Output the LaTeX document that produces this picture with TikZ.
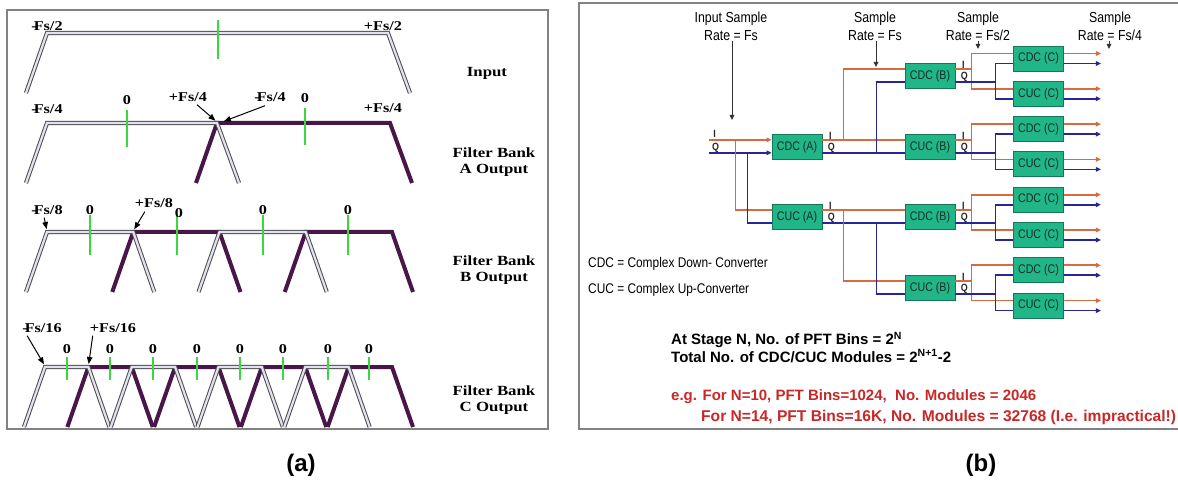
\documentclass[tikz,border=0pt]{standalone}
\usepackage{fontspec}
\setmainfont{Liberation Serif}
\newfontfamily\wserif[FakeStretch=1.2]{Liberation Serif}
\newfontfamily\nsans[FakeStretch=0.85]{Liberation Sans}
\newfontfamily\asans{Liberation Sans}
\usetikzlibrary{arrows.meta,calc}
\definecolor{ocol}{RGB}{214,106,64}
\definecolor{bcol}{RGB}{38,38,150}
\definecolor{boxg}{RGB}{32,182,136}
\definecolor{boxd}{RGB}{20,120,88}
\definecolor{boxt}{RGB}{22,45,36}
\definecolor{pcol}{RGB}{72,22,72}
\definecolor{gcol}{RGB}{60,215,60}
\definecolor{frcol}{RGB}{130,130,130}
\definecolor{rcol}{RGB}{200,40,40}
\definecolor{gin}{RGB}{225,225,240}
\begin{document}
\begin{tikzpicture}[x=1pt,y=-1pt,
 gline/.style={draw=gray!60!black, double=gin, double distance=2.2pt, line width=1pt},
 pline/.style={draw=pcol, line width=4pt},
 gtick/.style={draw=gcol, line width=1.4pt},
 lab/.style={font=\wserif\bfseries\fontsize{13.5}{13.5}\selectfont, inner sep=0pt},
 ttl/.style={font=\wserif\bfseries\fontsize{14}{16}\selectfont, align=center, inner sep=0pt},
 larr/.style={draw=black, line width=1pt, shorten >=2pt, -{Triangle[length=7pt,width=5.5pt]}},
 framebox/.style={draw=frcol, line width=1.6pt},
 oline/.style={draw=ocol, line width=1.7pt},
 bline/.style={draw=bcol, line width=1.7pt},
 arrtip/.style={-{Triangle[length=5pt,width=4.5pt]}},
 tarr/.style={draw=black!80, line width=0.9pt, -{Triangle[length=5pt,width=4.5pt]}},
 box/.style={draw=boxd, fill=boxg, line width=0.9pt, minimum width=50pt, minimum height=25pt, inner sep=0pt, font=\nsans\fontsize{12.5}{12.5}\selectfont, text=boxt},
 hdr/.style={font=\nsans\fontsize{14.5}{18}\selectfont, align=center, inner sep=0pt},
 iqlab/.style={font=\nsans\bfseries\fontsize{10.5}{10.5}\selectfont, inner sep=0pt, text=black!85},
 legtxt/.style={font=\nsans\fontsize{14}{14}\selectfont, inner sep=0pt, anchor=west},
 boldtxt/.style={font=\asans\bfseries\fontsize{15}{15}\selectfont, inner sep=0pt, anchor=west},
 captxt/.style={font=\asans\bfseries\fontsize{24}{24}\selectfont, inner sep=0pt}
]
\useasboundingbox (0,0) rectangle (1178,486);
\fill[white] (0,0) rectangle (1178,486);

% ================= panel (a) =================
\draw[framebox] (7,10) rectangle (548,429);
% Input
\draw[gline] (26,93) -- (47,33) -- (388,33) -- (410,93);
\draw[gtick] (218,20) -- (218,59);
% Filter bank A
\draw[pline] (196,183) -- (217,123) -- (390,123) -- (412,183);
\draw[gline] (26,183) -- (47,123) -- (217,123) -- (239,183);
\coordinate (ka) at (217,122);
\draw[gtick] (127,110) -- (127,147);
\draw[gtick] (305,108) -- (305,145);
% Filter bank B
\foreach \i in {1,3}
  \draw[pline] ({47+86.25*\i-21},292) -- ({47+86.25*\i},232) -- ({47+86.25*(\i+1)},232) -- ({47+86.25*(\i+1)+21},292);
\foreach \i in {0,2}
  \draw[gline] ({47+86.25*\i-21},292) -- ({47+86.25*\i},232) -- ({47+86.25*(\i+1)},232) -- ({47+86.25*(\i+1)+21},292);
\coordinate (kb0) at (47,231);
\coordinate (kb1) at (133.25,231);
\foreach \x in {90,177,263,348} \draw[gtick] (\x,215) -- (\x,255);
% Filter bank C
\foreach \i in {1,3,5,7}
  \draw[pline] ({45+43.375*\i-21},427) -- ({45+43.375*\i},367) -- ({45+43.375*(\i+1)},367) -- ({45+43.375*(\i+1)+21},427);
\foreach \i in {0,2,4,6}
  \draw[gline] ({45+43.375*\i-21},427) -- ({45+43.375*\i},367) -- ({45+43.375*(\i+1)},367) -- ({45+43.375*(\i+1)+21},427);
\coordinate (kc0) at (45,366);
\coordinate (kc1) at (88.4,366);
\foreach \x in {67,110,153,197,240,283,328,369} \draw[gtick] (\x,357) -- (\x,380);

% labels (a)
\node[lab] (l1) at (47,26) {-\kern-3pt Fs/2};
\node[lab] (l2) at (383,26) {+Fs/2};
\node[ttl] (t0) at (487,73) {Input};
\node[lab] (l3) at (47,109) {-\kern-3pt Fs/4};
\node[lab] (l4) at (127,100) {0};
\node[lab] (l5) at (188,97) {+Fs/4};
\node[lab] (l6) at (270,97) {-\kern-3pt Fs/4};
\node[lab] (l7) at (305,98) {0};
\node[lab] (l8) at (383,108) {+Fs/4};
\node[ttl] (t1) at (494,162) {Filter Bank\\A Output};
\node[lab] (l9) at (47,210) {-\kern-3pt Fs/8};
\node[lab] (l10) at (90,210) {0};
\node[lab] (l11) at (154,203) {+Fs/8};
\node[lab] (l12) at (179,213) {0};
\node[lab] (l13) at (263,210) {0};
\node[lab] (l14) at (348,210) {0};
\node[ttl] (t2) at (494,270) {Filter Bank\\B Output};
\node[lab] (l15) at (42,328) {-\kern-3pt Fs/16};
\node[lab] (l16) at (113,328) {+Fs/16};
\foreach \x [count=\n] in {67,110,153,197,240,283,328,369} \node[lab] (z\n) at (\x,349) {0};
\node[ttl] (t3) at (494,400) {Filter Bank\\C Output};
% arrows (a)
\draw[larr] ($(l5.south)+(9,3)$) -- (ka);
\draw[larr] ($(l6.south)+(-5,4)$) -- ($(ka)+(5,0)$);
\draw[larr] ($(l9.south west)+(13,3)$) -- (kb0);
\draw[larr] ($(l11.south west)+(10,4)$) -- (kb1);
\draw[larr] ($(l15.south west)+(5,3)$) -- (kc0);
\draw[larr] ($(l16.south west)+(3,3)$) -- (kc1);

% ================= panel (b) =================
\draw[framebox] (1178,3) -- (579,3) -- (579,429) -- (1178,429);
% boxes
\node[box] (A1) at (797,146.8) {CDC (A)};
\node[box] (A2) at (797,217.3) {CUC (A)};
\node[box] (B1) at (930,76.2) {CDC (B)};
\node[box] (B2) at (930,146.8) {CUC (B)};
\node[box] (B3) at (930,217.3) {CDC (B)};
\node[box] (B4) at (930,288) {CUC (B)};
\foreach \j/\t in {1/CDC,2/CUC,3/CDC,4/CUC,5/CDC,6/CUC,7/CDC,8/CUC}
  \node[box] (C\j) at (1038.5,{58.5+35.3*(\j-1)}) {\t\ (C)};
% input wiring
\coordinate (inI) at ($(A1.west)+(-63,-7)$);
\coordinate (inQ) at ($(A1.west)+(-63,6)$);
\draw[oline,arrtip] (inI) -- ($(A1.west)+(0,-7)$);
\draw[bline,arrtip] (inQ) -- ($(A1.west)+(0,6)$);
\draw[oline] ($(inI)+(27,0)$) |- ($(A2.west)+(0,-7)$);
\draw[bline] ($(inQ)+(39,0)$) |- ($(A2.west)+(0,6)$);
\node[iqlab] (ini) at ($(inI)+(6,-6)$) {I};
\node[iqlab] (inq) at ($(inQ)+(7,-5)$) {Q};
% A -> B
\foreach \a/\s/\d in {A1/B2/B1, A2/B3/B4} {
  \draw[oline] ($(\a.east)+(0,-7)$) -- ($(\s.west)+(0,-7)$);
  \draw[bline] ($(\a.east)+(0,6)$) -- ($(\s.west)+(0,6)$);
  \draw[oline] ($(\a.east)+(21,-7)$) |- ($(\d.west)+(0,-7)$);
  \draw[bline] ($(\a.east)+(54,6)$) |- ($(\d.west)+(0,6)$);
}
% B -> C
\foreach \b/\p/\q in {B1/C1/C2, B2/C3/C4, B3/C5/C6, B4/C7/C8} {
  \draw[oline] ($(\b.east)+(0,-7)$) -- ($(\b.east)+(16,-7)$);
  \draw[oline] ($(\p.west)+(0,-5)$) -| ($(\b.east)+(16,0)$) |- ($(\q.west)+(0,-5)$);
  \draw[bline] ($(\b.east)+(0,6)$) -- ($(\b.east)+(40,6)$);
  \draw[bline] ($(\p.west)+(0,5)$) -| ($(\b.east)+(40,0)$) |- ($(\q.west)+(0,5)$);
}
% C outputs
\foreach \j in {1,...,8} {
  \coordinate (oI\j) at ($(C\j.east)+(37,-5)$);
  \coordinate (oQ\j) at ($(C\j.east)+(37,5)$);
  \draw[oline,arrtip] ($(C\j.east)+(0,-5)$) -- (oI\j);
  \draw[bline,arrtip] ($(C\j.east)+(0,5)$) -- (oQ\j);
}
% I/Q labels
\foreach \b in {A1,A2,B1,B2,B3,B4} {
  \node[iqlab] (\b-i) at ($(\b.east)+(8,-11)$) {I};
  \node[iqlab] (\b-q) at ($(\b.east)+(9,1)$) {Q};
}
% headers
\node[hdr] (h1) at (731,26) {Input Sample\\Rate = Fs};
\coordinate (h1e) at (732,120);
\draw[tarr] (h1e |- h1.south) -- (h1e);
\node[hdr] (h2) at (875,26) {Sample\\Rate = Fs};
\coordinate (h2e) at (876,67);
\draw[tarr] (h2e |- h2.south) -- (h2e);
\node[hdr] (h3) at (978,26) {Sample\\Rate = Fs/2};
\coordinate (h3e) at (978,49);
\draw[tarr] (h3e |- h3.south) -- (h3e);
\node[hdr] (h4) at (1110,26) {Sample\\Rate = Fs/4};
\coordinate (h4e) at (1109,49);
\draw[tarr] (h4e |- h4.south) -- (h4e);
% legend
\node[legtxt] (g1) at (588,264) {CDC = Complex Down- Converter};
\node[legtxt] (g2) at (588,290) {CUC = Complex Up-Converter};
\node[boldtxt] (f1) at (671,340) {At Stage N, No. of PFT Bins = 2\textsuperscript{N}};
\node[boldtxt] (f2) at (671,356) {Total No. of CDC/CUC Modules = 2\textsuperscript{N+1}-2};
\node[boldtxt,text=rcol] (r1) at (671,397) {e.g. For N=10, PFT Bins=1024,\ \ No. Modules = 2046};
\node[boldtxt,text=rcol,font=\asans\bfseries\fontsize{15.6}{15.6}\selectfont] (r2) at (701,417) {For N=14, PFT Bins=16K, No. Modules = 32768 (I.e. impractical!)};

% captions
\node[captxt] (ca) at (301,465) {(a)};
\node[captxt] (cb) at (981,465) {(b)};
\end{tikzpicture}
\end{document}
